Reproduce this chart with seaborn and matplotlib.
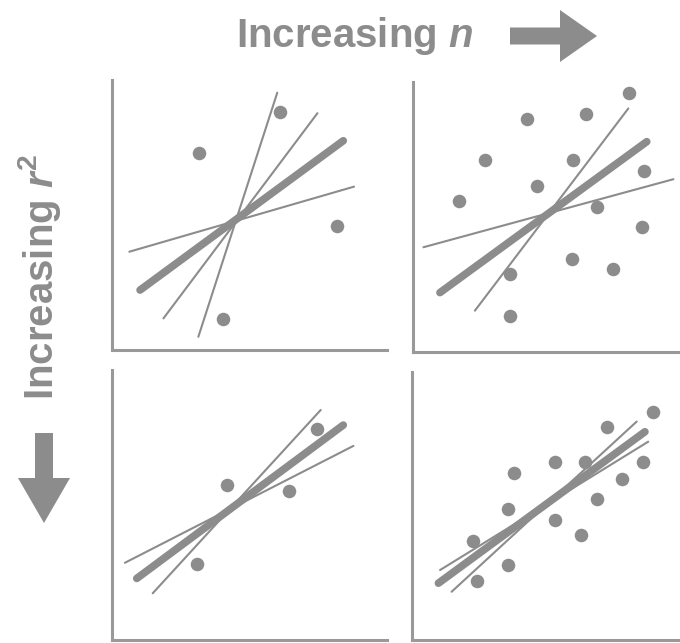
import matplotlib
matplotlib.use("Agg")
import matplotlib.pyplot as plt
import seaborn as sns
import pandas as pd
from matplotlib.patches import FancyArrow

GREY = "#8c8c8c"
SPINE = "#999999"

# top left: small n, low r^2
tl_x = [6.11, 3.16, 8.19, 4.05]
tl_y = [8.83, 7.28, 4.59, 1.14]
tl_fit_x = [1.02, 8.41]
tl_fit_y = [2.22, 7.75]
tl_band_x = [[3.14, 6.01], [1.87, 7.47], [0.63, 8.80]]
tl_band_y = [[0.49, 9.53], [1.17, 8.77], [3.64, 6.05]]

# top right: large n, low r^2
tr_x = [7.87, 4.13, 6.29, 2.62, 5.81, 8.40, 4.50, 1.68, 6.70, 8.32, 5.77, 7.26, 3.53, 3.53]
tr_y = [9.58, 8.62, 8.81, 7.11, 7.11, 6.72, 6.15, 5.60, 5.36, 4.62, 3.43, 3.06, 2.89, 1.33]
tr_fit_x = [0.98, 8.50]
tr_fit_y = [2.20, 7.79]
tr_band_x = [[2.25, 7.83], [0.38, 9.47]]
tr_band_y = [[1.53, 9.02], [3.88, 6.40]]

# bottom left: small n, high r^2
bl_x = [4.19, 6.45, 3.08, 7.44]
bl_y = [5.74, 5.52, 2.81, 7.80]
bl_fit_x = [0.90, 8.41]
bl_fit_y = [2.28, 7.96]
bl_band_x = [[1.48, 7.59], [0.47, 8.78]]
bl_band_y = [[1.73, 8.52], [2.86, 7.19]]

# bottom right: large n, high r^2
br_x = [8.78, 7.08, 3.71, 5.20, 6.29, 8.39, 7.62, 3.50, 6.72, 5.20, 6.13, 2.21, 3.50, 2.38]
br_y = [8.52, 7.96, 6.23, 6.63, 6.63, 6.63, 6.02, 4.88, 5.27, 4.48, 3.93, 3.70, 2.78, 2.20]
br_fit_x = [0.96, 8.47]
br_fit_y = [2.12, 7.77]
br_band_x = [[1.02, 8.59], [1.44, 8.17]]
br_band_y = [[2.61, 7.40], [1.80, 8.15]]

panels = [
    (tl_x, tl_y, tl_fit_x, tl_fit_y, tl_band_x, tl_band_y),
    (tr_x, tr_y, tr_fit_x, tr_fit_y, tr_band_x, tr_band_y),
    (bl_x, bl_y, bl_fit_x, bl_fit_y, bl_band_x, bl_band_y),
    (br_x, br_y, br_fit_x, br_fit_y, br_band_x, br_band_y),
]

sns.set_style("white")
plt.rcParams["font.family"] = ["Liberation Sans", "DejaVu Sans"]
plt.rcParams["mathtext.fontset"] = "custom"
plt.rcParams["mathtext.rm"] = "Liberation Sans:bold"
plt.rcParams["mathtext.it"] = "Liberation Sans:italic:bold"

W, H = 680, 643
fig = plt.figure(figsize=(W / 100, H / 100), dpi=100)

# panel boxes in pixels: left, top, width, height
boxes = [(112, 80, 275, 270), (413, 82, 275, 270),
         (112, 370, 275, 270), (412, 372, 275, 268)]

for (px, py, fx, fy, bx, by), (l, t, w, h) in zip(panels, boxes):
    ax = fig.add_axes([l / W, (H - t - h) / H, w / W, h / H])

    band = pd.DataFrame({
        "x": [v for pair in bx for v in pair],
        "y": [v for pair in by for v in pair],
        "line": [i for i, pair in enumerate(bx) for _ in pair],
    })
    sns.lineplot(data=band, x="x", y="y", units="line", estimator=None,
                 sort=False, color=GREY, lw=1.5, ax=ax, legend=False)
    sns.lineplot(x=fx, y=fy, color=GREY, lw=5.5, sort=False, ax=ax,
                 solid_capstyle="round")
    sns.scatterplot(x=px, y=py, color=GREY, s=95, linewidth=0, ax=ax, zorder=3)

    ax.set_xlim(0, 10)
    ax.set_ylim(0, 10)
    ax.set_xticks([])
    ax.set_yticks([])
    ax.set(xlabel="", ylabel="")
    sns.despine(ax=ax)
    for side in ["left", "bottom"]:
        ax.spines[side].set_color(SPINE)
        ax.spines[side].set_linewidth(2.2)

fig.text(355 / W, 1 - 36 / H, r"Increasing $n$", color=GREY, fontsize=29,
         fontweight="bold", ha="center", va="center")
fig.text(40 / W, 1 - 277 / H, r"Increasing $r^2$", color=GREY, fontsize=29,
         fontweight="bold", ha="center", va="center", rotation=90)

# arrows, in inches
fig.add_artist(FancyArrow(5.10, (H - 36) / 100, 0.87, 0, width=0.17,
                          head_width=0.52, head_length=0.37,
                          length_includes_head=True, color=GREY, lw=0,
                          transform=fig.dpi_scale_trans))
fig.add_artist(FancyArrow(0.44, (H - 433) / 100, 0, -0.90, width=0.18,
                          head_width=0.52, head_length=0.45,
                          length_includes_head=True, color=GREY, lw=0,
                          transform=fig.dpi_scale_trans))

fig.savefig("out.png", dpi=100)
